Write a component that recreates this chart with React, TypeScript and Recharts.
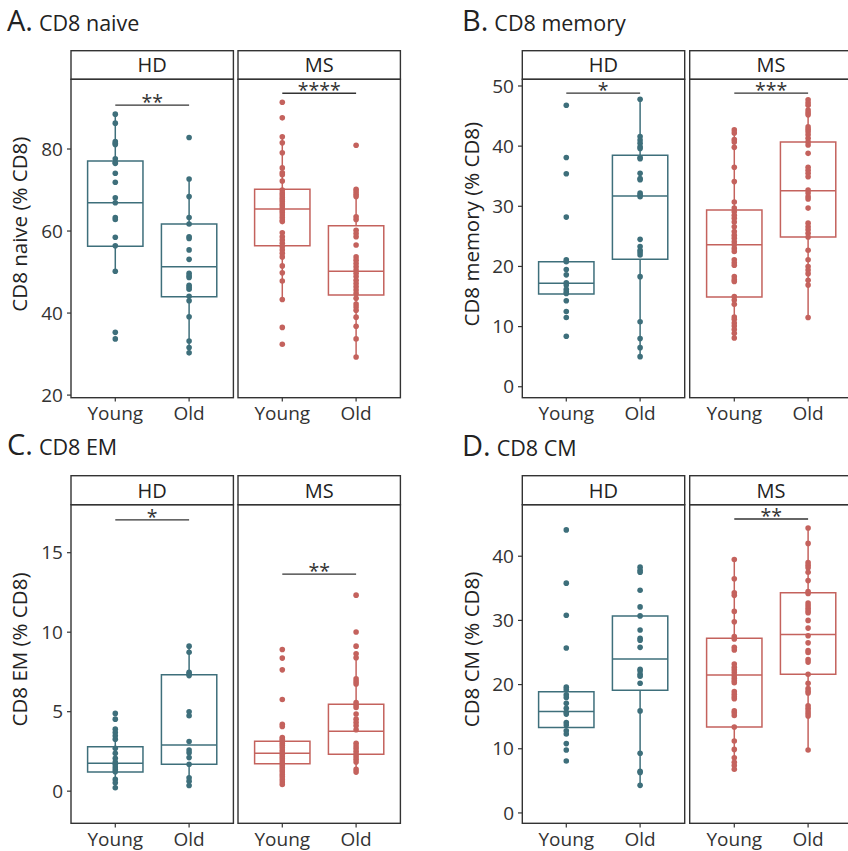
import { ComposedChart, Scatter, XAxis, YAxis, ReferenceArea, ReferenceLine } from 'recharts';

const HD_COLOR = '#3e6f7b';
const MS_COLOR = '#c4625d';
const INK = '#333333';
const FONT = '"Open Sans", sans-serif';

const groups = ['Young', 'Old'];
const facets = ['HD', 'MS'];

// A. CD8 naive
const naiveHdYoung = [88.5, 86.3, 81.8, 81.4, 81.1, 77.6, 76.7, 76.5, 74.1, 71.9, 68.1, 66.9, 63.3, 62.8, 58.5, 56.4, 50.2, 35.3, 33.7];
const naiveHdOld = [82.8, 72.7, 68.4, 63.3, 61.7, 58.6, 58.2, 55.4, 53.1, 49.7, 49.1, 48.7, 46.8, 46.3, 45.8, 44.1, 43.0, 39.1, 33.2, 31.6, 30.3];
const naiveMsYoung = [91.4, 87.6, 83.0, 81.5, 79.1, 75.4, 74.2, 73.7, 72.2, 70.0, 69.3, 68.8, 68.2, 67.7, 67.2, 66.6, 66.1, 65.5, 65.0, 64.5, 63.9, 63.3, 62.7, 62.3, 59.6, 58.6, 57.8, 57.0, 56.2, 55.4, 54.6, 53.7, 51.5, 49.8, 47.8, 43.3, 36.5, 32.4];
const naiveMsOld = [80.9, 70.2, 69.6, 69.0, 68.4, 63.5, 62.8, 60.2, 59.4, 58.6, 56.6, 53.7, 52.9, 52.1, 51.3, 50.5, 49.7, 48.9, 48.0, 47.2, 46.4, 45.6, 44.8, 43.6, 42.2, 41.5, 40.7, 39.0, 36.8, 33.7, 29.3];
// box stats: [whisker low, q1, median, q3, whisker high]
const naiveHdYoungBox = [50.2, 56.3, 66.9, 77.1, 88.5];
const naiveHdOldBox = [30.3, 44.0, 51.3, 61.7, 72.7];
const naiveMsYoungBox = [43.3, 56.4, 65.4, 70.2, 83.0];
const naiveMsOldBox = [29.3, 44.4, 50.2, 61.3, 70.2];
const naiveTicks = [20, 40, 60, 80];

// B. CD8 memory
const memHdYoung = [46.8, 38.1, 35.4, 28.2, 21.1, 20.8, 19.5, 18.6, 17.3, 16.9, 16.2, 15.8, 15.5, 14.3, 12.5, 11.5, 8.4];
const memHdOld = [47.8, 41.6, 41.0, 40.5, 39.9, 39.6, 38.1, 37.9, 35.5, 34.6, 34.4, 32.2, 31.9, 31.6, 24.5, 23.3, 22.7, 22.3, 21.9, 18.3, 10.8, 8.0, 6.5, 5.0];
const memMsYoung = [42.7, 42.2, 41.1, 40.7, 39.8, 36.5, 34.1, 30.7, 29.7, 29.1, 28.5, 28.0, 27.4, 26.6, 25.8, 25.2, 24.7, 24.1, 23.6, 23.0, 22.5, 21.1, 20.6, 20.2, 18.3, 17.8, 17.5, 15.0, 14.4, 13.7, 11.6, 11.2, 10.6, 10.1, 9.5, 8.9, 8.1];
const memMsOld = [47.7, 47.2, 46.8, 46.0, 45.6, 45.2, 43.2, 42.8, 42.4, 41.9, 41.3, 40.7, 40.2, 38.8, 36.5, 36.0, 35.5, 34.9, 32.7, 32.2, 31.6, 31.2, 29.7, 27.2, 26.6, 26.1, 25.5, 24.9, 22.7, 21.1, 20.0, 19.4, 18.8, 17.7, 16.9, 11.5];
const memHdYoungBox = [15.4, 15.4, 17.2, 20.8, 20.8];
const memHdOldBox = [5.0, 21.2, 31.7, 38.5, 47.8];
const memMsYoungBox = [8.1, 14.9, 23.6, 29.4, 42.7];
const memMsOldBox = [11.5, 24.9, 32.6, 40.7, 47.7];
const memTicks = [0, 10, 20, 30, 40, 50];

// C. CD8 EM
const emHdYoung = [4.89, 4.53, 3.9, 3.69, 3.48, 3.27, 2.7, 2.38, 2.07, 1.83, 1.69, 1.52, 1.37, 1.22, 0.74, 0.53, 0.21];
const emHdOld = [9.12, 8.74, 7.48, 7.37, 7.27, 4.99, 4.74, 3.12, 2.59, 2.42, 2.11, 1.69, 0.84, 0.63, 0.36];
const emMsYoung = [8.91, 8.37, 7.63, 5.77, 4.21, 4.07, 3.37, 3.27, 3.16, 3.01, 2.89, 2.74, 2.59, 2.47, 2.32, 2.17, 2.04, 1.9, 1.75, 1.62, 1.47, 1.33, 1.2, 1.05, 0.91, 0.74, 0.57, 0.42];
const emMsOld = [12.33, 10.01, 9.12, 8.64, 8.39, 7.06, 6.89, 6.74, 5.58, 5.42, 5.27, 4.85, 4.53, 4.32, 4.11, 3.86, 3.01, 2.84, 2.68, 2.51, 2.34, 2.17, 2.0, 1.83, 1.37, 1.2];
const emHdYoungBox = [0.21, 1.2, 1.75, 2.8, 3.9];
const emHdOldBox = [0.36, 1.69, 2.91, 7.33, 9.12];
const emMsYoungBox = [0.42, 1.73, 2.38, 3.14, 3.5];
const emMsOldBox = [1.2, 2.32, 3.77, 5.46, 8.64];
const emTicks = [0, 5, 10, 15];

// D. CD8 CM
const cmHdYoung = [44.1, 35.8, 30.8, 25.7, 19.6, 19.2, 18.4, 18.0, 17.1, 16.3, 15.7, 15.4, 14.1, 13.7, 12.8, 12.3, 10.8, 9.8, 8.1];
const cmHdOld = [38.3, 37.8, 37.5, 34.7, 32.1, 30.7, 28.5, 27.2, 26.9, 25.8, 22.4, 22.1, 21.6, 21.3, 20.2, 15.9, 9.3, 6.5, 6.3, 4.3];
const cmMsYoung = [39.5, 36.5, 34.3, 33.9, 31.4, 29.8, 27.5, 27.1, 25.8, 25.4, 23.2, 22.7, 22.3, 21.9, 21.4, 21.0, 20.6, 20.3, 18.9, 18.5, 18.1, 17.8, 15.9, 15.6, 15.2, 13.4, 11.2, 9.9, 8.6, 7.9, 7.4, 6.8];
const cmMsOld = [44.4, 42.0, 39.0, 38.6, 38.2, 37.5, 36.2, 34.5, 34.2, 32.7, 32.3, 31.9, 31.5, 31.2, 30.0, 28.8, 27.6, 26.5, 25.3, 25.0, 23.9, 23.5, 21.6, 20.2, 19.4, 19.0, 18.7, 16.7, 16.3, 15.9, 15.5, 15.1, 9.8];
const cmHdYoungBox = [13.3, 13.3, 15.8, 18.9, 18.9];
const cmHdOldBox = [4.3, 19.1, 24.0, 30.7, 30.7];
const cmMsYoungBox = [6.8, 13.4, 21.5, 27.2, 39.5];
const cmMsOldBox = [9.8, 21.6, 27.8, 34.3, 44.4];
const cmTicks = [0, 10, 20, 30, 40];

// significance brackets: [y, label]
const naiveSig: ([number, string] | null)[] = [[90.7, '**'], [93.6, '****']];
const memSig: ([number, string] | null)[] = [[48.8, '*'], [48.8, '***']];
const emSig: ([number, string] | null)[] = [[17.07, '*'], [13.65, '**']];
const cmSig: ([number, string] | null)[] = [null, [45.8, '**']];

const PW = 162.4;
const HALF = 0.375;
const TOP_PAD = 12;

function BoxParts({ pos, box, color }: { pos: number; box: number[]; color: string }) {
  const [lo, q1, med, q3, hi] = box;
  const parts = [];
  if (lo < q1) {
    parts.push(
      <ReferenceLine key="wl" segment={[{ x: pos, y: lo }, { x: pos, y: q1 }]} stroke={color} strokeWidth={1.5} />
    );
  }
  if (hi > q3) {
    parts.push(
      <ReferenceLine key="wh" segment={[{ x: pos, y: q3 }, { x: pos, y: hi }]} stroke={color} strokeWidth={1.5} />
    );
  }
  parts.push(
    <ReferenceArea key="box" x1={pos - HALF} x2={pos + HALF} y1={q1} y2={q3} fill="none" fillOpacity={0} stroke={color} strokeWidth={1.5} strokeOpacity={1} />
  );
  parts.push(
    <ReferenceLine key="med" segment={[{ x: pos - HALF, y: med }, { x: pos + HALF, y: med }]} stroke={color} strokeWidth={1.5} />
  );
  return parts;
}

function Facet({ left, top, height, young, old, youngBox, oldBox, color, domain, ticks, axis, sig }: any) {
  const yW = axis ? 50 : 0;
  const points = [...young.map((v: number) => ({ x: 1, y: v })), ...old.map((v: number) => ({ x: 2, y: v }))];
  return (
    <div style={{ position: 'absolute', left: left - yW, top: top - TOP_PAD }}>
      <ComposedChart width={yW + PW} height={height + 36 + TOP_PAD} margin={{ top: TOP_PAD, right: 0, bottom: 0, left: 0 }}>
        <XAxis
          type="number"
          dataKey="x"
          domain={[0.4, 2.6]}
          ticks={[1, 2]}
          interval={0}
          allowDataOverflow
          tickFormatter={(v) => groups[v - 1]}
          axisLine={false}
          tickLine={{ stroke: INK, strokeWidth: 1.2 }}
          tickSize={4}
          tickMargin={5}
          height={36}
          tick={{ fill: INK, fontSize: 19, fontFamily: FONT }}
        />
        <YAxis
          type="number"
          dataKey="y"
          domain={domain}
          ticks={ticks}
          allowDataOverflow
          hide={!axis}
          width={yW}
          axisLine={false}
          tickLine={{ stroke: INK, strokeWidth: 1.2 }}
          tickSize={4}
          tickMargin={4}
          tick={{ fill: INK, fontSize: 19, fontFamily: FONT }}
        />
        {BoxParts({ pos: 1, box: youngBox, color })}
        {BoxParts({ pos: 2, box: oldBox, color })}
        <Scatter
          data={points}
          isAnimationActive={false}
          fill={color}
          shape={(p: any) => <circle cx={p.cx} cy={p.cy} r={2.8} fill={color} />}
        />
        {sig && (
          <ReferenceLine segment={[{ x: 1, y: sig[0] }, { x: 2, y: sig[0] }]} stroke={INK} strokeWidth={1.3} />
        )}
        {sig && (
          <Scatter
            data={[{ x: 1.5, y: sig[0] }]}
            isAnimationActive={false}
            shape={(p: any) => (
              <text x={p.cx} y={p.cy + 4} textAnchor="middle" fontSize={19.5} fontFamily={FONT} fill={INK}>
                {sig[1]}
              </text>
            )}
          />
        )}
      </ComposedChart>
    </div>
  );
}

const panels = [
  { key: 'A', name: 'CD8 naive', x: [71, 238], stripTop: 50.7, bodyTop: 79.3, bodyH: 318.4, domain: [19.44, 97.07], ticks: naiveTicks, ylab: 'CD8 naive (% CD8)', labX: 27, titleX: 7, titleY: 31,
    data: [[naiveHdYoung, naiveHdOld, naiveHdYoungBox, naiveHdOldBox], [naiveMsYoung, naiveMsOld, naiveMsYoungBox, naiveMsOldBox]], sig: naiveSig },
  { key: 'B', name: 'CD8 memory', x: [522.3, 689.7], stripTop: 50.7, bodyTop: 79.3, bodyH: 318.4, domain: [-1.77, 51.16], ticks: memTicks, ylab: 'CD8 memory (% CD8)', labX: 479, titleX: 462, titleY: 31,
    data: [[memHdYoung, memHdOld, memHdYoungBox, memHdOldBox], [memMsYoung, memMsOld, memMsYoungBox, memMsOldBox]], sig: memSig },
  { key: 'C', name: 'CD8 EM', x: [71, 238], stripTop: 475.7, bodyTop: 504.7, bodyH: 318.6, domain: [-2.04, 18.0], ticks: emTicks, ylab: 'CD8 EM (% CD8)', labX: 27, titleX: 7, titleY: 455,
    data: [[emHdYoung, emHdOld, emHdYoungBox, emHdOldBox], [emMsYoung, emMsOld, emMsYoungBox, emMsOldBox]], sig: emSig },
  { key: 'D', name: 'CD8 CM', x: [522.3, 689.7], stripTop: 475.7, bodyTop: 504.7, bodyH: 318.6, domain: [-1.66, 47.98], ticks: cmTicks, ylab: 'CD8 CM (% CD8)', labX: 479, titleX: 462, titleY: 456,
    data: [[cmHdYoung, cmHdOld, cmHdYoungBox, cmHdOldBox], [cmMsYoung, cmMsOld, cmMsYoungBox, cmMsOldBox]], sig: cmSig },
];

export default function App() {
  return (
    <div style={{ position: 'fixed', left: 0, top: 0, width: 848, height: 851, overflow: 'hidden', background: '#fff', fontFamily: FONT }}>
      {panels.map((p) =>
        p.data.map((d, i) => (
          <Facet
            key={p.key + i}
            left={p.x[i]}
            top={p.bodyTop}
            height={p.bodyH}
            young={d[0]}
            old={d[1]}
            youngBox={d[2]}
            oldBox={d[3]}
            color={i === 0 ? HD_COLOR : MS_COLOR}
            domain={p.domain}
            ticks={p.ticks}
            axis={i === 0}
            sig={p.sig[i]}
          />
        ))
      )}
      <svg width={848} height={851} style={{ position: 'absolute', left: 0, top: 0, pointerEvents: 'none' }}>
        {panels.map((p) => (
          <g key={p.key}>
            <text x={p.titleX} y={p.titleY} fill="#222" fontFamily={FONT}>
              <tspan fontSize={29}>{p.key}.</tspan>
              <tspan fontSize={21.5} dx={6}>{p.name}</tspan>
            </text>
            <text
              transform={`translate(${p.labX}, ${(p.stripTop + p.bodyTop + p.bodyH) / 2}) rotate(-90)`}
              textAnchor="middle"
              fontSize={20.5}
              fill="#222"
              fontFamily={FONT}
            >
              {p.ylab}
            </text>
            {p.x.map((x, i) => (
              <g key={i}>
                <rect x={x} y={p.stripTop} width={PW} height={p.bodyTop - p.stripTop} fill="none" stroke={INK} strokeWidth={1.4} />
                <rect x={x} y={p.bodyTop} width={PW} height={p.bodyH} fill="none" stroke={INK} strokeWidth={1.4} />
                <text x={x + PW / 2} y={p.bodyTop - 7} textAnchor="middle" fontSize={20} fill="#222" fontFamily={FONT}>
                  {facets[i]}
                </text>
              </g>
            ))}
          </g>
        ))}
      </svg>
    </div>
  );
}
